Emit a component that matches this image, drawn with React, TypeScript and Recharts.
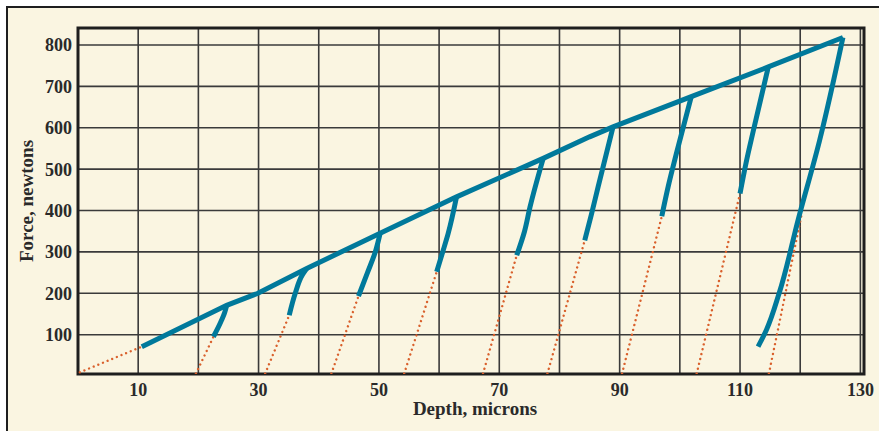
import * as React from 'react';
import { LineChart, Line, XAxis, YAxis, CartesianGrid, ReferenceArea } from 'recharts';

// loading envelope (depth in microns, force in newtons)
const loadX = [10.6, 24.7, 29.9, 38.0, 50.2, 62.9, 77.3, 85.0, 88.9, 101.9, 114.7, 127.1];
const loadY = [71, 171, 200, 260, 345, 433, 526, 578, 602, 675, 747, 818];

// unloading curves, listed from the low end up to the envelope
const unloadX = [
  [22.5, 23.7, 24.4, 24.7],
  [35.1, 36.1, 37.3, 38.0],
  [46.6, 48.1, 49.4, 50.2],
  [59.6, 60.6, 61.5, 62.9],
  [72.9, 74.2, 75.1, 77.3],
  [84.2, 85.3, 86.4, 88.9],
  [97.0, 98.1, 99.4, 101.9],
  [110.0, 111.0, 112.2, 114.7],
  [113.0, 114.4, 116.5, 119.7, 123.2, 127.1],
];
const unloadY = [
  [95, 130, 155, 171],
  [147, 200, 245, 260],
  [193, 250, 300, 345],
  [252, 300, 344, 433],
  [292, 350, 408, 526],
  [328, 390, 456, 602],
  [386, 460, 536, 675],
  [441, 515, 592, 747],
  [71, 112, 200, 380, 568, 818],
];

// dotted extrapolations down to zero force
const dotX0 = [0.3, 19.6, 31.1, 42.1, 54.2, 67.3, 78.0, 90.4, 102.8, 114.8];
const dotY0 = [9, 6, 6, 6, 6, 6, 6, 6, 6, 6];
const dotX1 = [10.6, 22.5, 35.1, 46.6, 59.6, 72.9, 84.2, 97.0, 110.0, 120.3];
const dotY1 = [71, 95, 147, 193, 252, 292, 328, 386, 441, 395];

const xTicks = [10, 20, 30, 40, 50, 60, 70, 80, 90, 100, 110, 120, 130];
const yTicks = [100, 200, 300, 400, 500, 600, 700, 800];

const toPts = (xs: number[], ys: number[]) => xs.map((x, i) => ({ x, y: ys[i] }));

const BLUE = '#00799b';
const DOTS = '#d9602c';
const INK = '#2a2a2a';
const family = '"Liberation Serif", serif';
const tickFont = { fill: INK, fontSize: 18, fontWeight: 700, fontFamily: family };
const titleFont = { fill: INK, fontSize: 19, fontWeight: 700, fontFamily: family };

export default function App() {
  const envelope = toPts(loadX, loadY);
  const unloads = unloadX.map((xs, i) => toPts(xs, unloadY[i]));
  const dotted = dotX0.map((x, i) => [
    { x, y: dotY0[i] },
    { x: dotX1[i], y: dotY1[i] },
  ]);

  return (
    <div
      style={{
        position: 'absolute',
        left: 6,
        top: 6,
        width: 873,
        height: 425,
        boxSizing: 'border-box',
        borderTop: '2px solid #1e1e1e',
        borderLeft: '2px solid #1e1e1e',
        background: '#faf5e1',
        overflow: 'hidden',
      }}
    >
      <LineChart width={871} height={423} margin={{ top: 20, right: 15, bottom: 0, left: 0 }}>
        <CartesianGrid stroke="#3a3a3a" strokeWidth={1.6} />
        <XAxis
          type="number"
          dataKey="x"
          domain={[0, 130.6]}
          allowDataOverflow
          ticks={xTicks}
          interval={0}
          tickFormatter={(v: number) => ((v / 10) % 2 === 1 ? String(v) : '')}
          tickLine={false}
          axisLine={false}
          tickSize={7}
          tickMargin={2}
          height={57}
          tick={tickFont}
          label={{ value: 'Depth, microns', position: 'insideBottom', offset: 16, dx: 4, ...titleFont }}
        />
        <YAxis
          type="number"
          domain={[5, 841]}
          allowDataOverflow
          ticks={yTicks}
          interval={0}
          tickLine={false}
          axisLine={false}
          tickSize={4}
          tickMargin={2}
          width={70}
          tick={tickFont}
          label={{
            value: 'Force, newtons',
            angle: -90,
            position: 'insideLeft',
            offset: 18,
            style: { textAnchor: 'middle' },
            ...titleFont,
          }}
        />
        {dotted.map((d, i) => (
          <Line
            key={'d' + i}
            data={d}
            dataKey="y"
            type="linear"
            stroke={DOTS}
            strokeWidth={2.4}
            strokeDasharray="0.01 5"
            strokeLinecap="round"
            dot={false}
            activeDot={false}
            isAnimationActive={false}
          />
        ))}
        {unloads.map((d, i) => (
          <Line
            key={'u' + i}
            data={d}
            dataKey="y"
            type="monotoneY"
            stroke={BLUE}
            strokeWidth={5}
            dot={false}
            activeDot={false}
            isAnimationActive={false}
          />
        ))}
        <Line
          data={envelope}
          dataKey="y"
          type="linear"
          stroke={BLUE}
          strokeWidth={5}
          dot={false}
          activeDot={false}
          isAnimationActive={false}
        />
        <ReferenceArea x1={0} x2={130.6} y1={5} y2={841} fill="none" stroke="#1e1e1e" strokeWidth={3} />
      </LineChart>
    </div>
  );
}
